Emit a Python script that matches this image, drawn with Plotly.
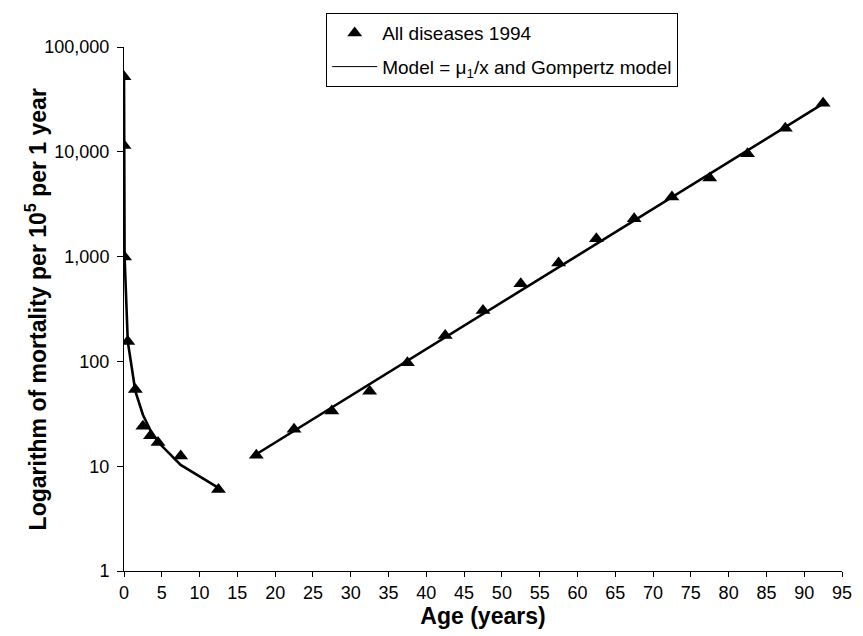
import plotly.graph_objects as go

# Observed data (age midpoints in years, mortality per 10^5 per year)
age_obs = [0.0015, 0.0066, 0.077, 0.5, 1.5, 2.5, 3.5, 4.5, 7.5, 12.5,
           17.5, 22.5, 27.5, 32.5, 37.5, 42.5, 47.5, 52.5, 57.5, 62.5,
           67.5, 72.5, 77.5, 82.5, 87.5, 92.5]
mort_obs = [52000, 11500, 990, 155, 54, 24, 19.5, 16.8, 12.5, 6.0,
            12.7, 22.5, 33.6, 52, 97, 177, 306, 550, 871, 1484,
            2300, 3706, 5620, 9570, 16800, 29100]

# Model values: mu1/x for children, Gompertz for adults (gap between)
age_model = [0.0015, 0.0066, 0.077, 0.5, 1.5, 2.5, 3.5, 4.5, 7.5, 12.5, None,
             17.5, 22.5, 27.5, 32.5, 37.5, 42.5, 47.5, 52.5, 57.5, 62.5,
             67.5, 72.5, 77.5, 82.5, 87.5, 92.5]
mort_model = [52000, 11700, 1000, 155, 52, 31, 22, 17, 10.3, 6.2, None,
              13.0, 21.7, 36.3, 60.7, 101, 169, 283, 473, 791, 1321,
              2208, 3690, 6166, 10300, 17220, 28770]

x_ticks = list(range(0, 100, 5))
y_ticks = [1, 10, 100, 1000, 10000, 100000]
y_tick_text = ["1", "10", "100", "1,000", "10,000", "100,000"]

obs_name = "All diseases 1994"
model_name = "Model = \u03bc<sub>1</sub>/x and Gompertz model"
x_title = "<b>Age (years)</b>"
y_title = "<b>Logarithm of mortality per 10<sup>5</sup> per 1 year</b>"

FONT = "Liberation Sans, Arial, sans-serif"

fig = go.Figure()
fig.add_trace(go.Scatter(
    x=age_obs, y=mort_obs, mode="markers", name=obs_name,
    legendgroup="a",
    marker=dict(symbol="triangle-up", size=13, color="black"),
))
fig.add_trace(go.Scatter(
    x=age_model, y=mort_model, mode="lines", name=model_name,
    showlegend=False, connectgaps=False,
    line=dict(color="black", width=2.6),
))
# legend-only entry with the thin sample line shown in the reference legend
fig.add_trace(go.Scatter(
    x=[None], y=[None], mode="lines", name=model_name, legendgroup="b",
    line=dict(color="black", width=1),
))

fig.update_layout(
    width=863, height=636,
    margin=dict(l=124, r=11, t=47, b=64),
    paper_bgcolor="white", plot_bgcolor="white",
    font=dict(family=FONT, size=18, color="black"),
    showlegend=True,
    legend=dict(
        x=0.2816, y=1.0648, xanchor="left", yanchor="top",
        bordercolor="black", borderwidth=1, bgcolor="white",
        font=dict(size=19, family=FONT),
        itemwidth=45, tracegroupgap=6,
    ),
    xaxis=dict(
        range=[0, 95], tickvals=x_ticks, ticks="outside", ticklen=5,
        tickcolor="black", showline=True, linecolor="black", linewidth=1,
        showgrid=False, zeroline=False,
        tickfont=dict(size=18, family=FONT),
        title=dict(text=x_title, font=dict(size=23, family=FONT), standoff=6),
    ),
    yaxis=dict(
        type="log", range=[0, 5], tickvals=y_ticks, ticktext=y_tick_text,
        ticks="outside", ticklen=6, tickcolor="black", showline=True,
        linecolor="black", linewidth=1, showgrid=False, zeroline=False,
        tickfont=dict(size=18, family=FONT), ticklabelstandoff=4,
    ),
    annotations=[dict(
        text=y_title, textangle=-90, xref="paper", yref="paper",
        x=-0.122, y=0.5, xanchor="center", yanchor="middle",
        showarrow=False, font=dict(size=23, family=FONT),
    )],
)

fig.write_html("out.html")
